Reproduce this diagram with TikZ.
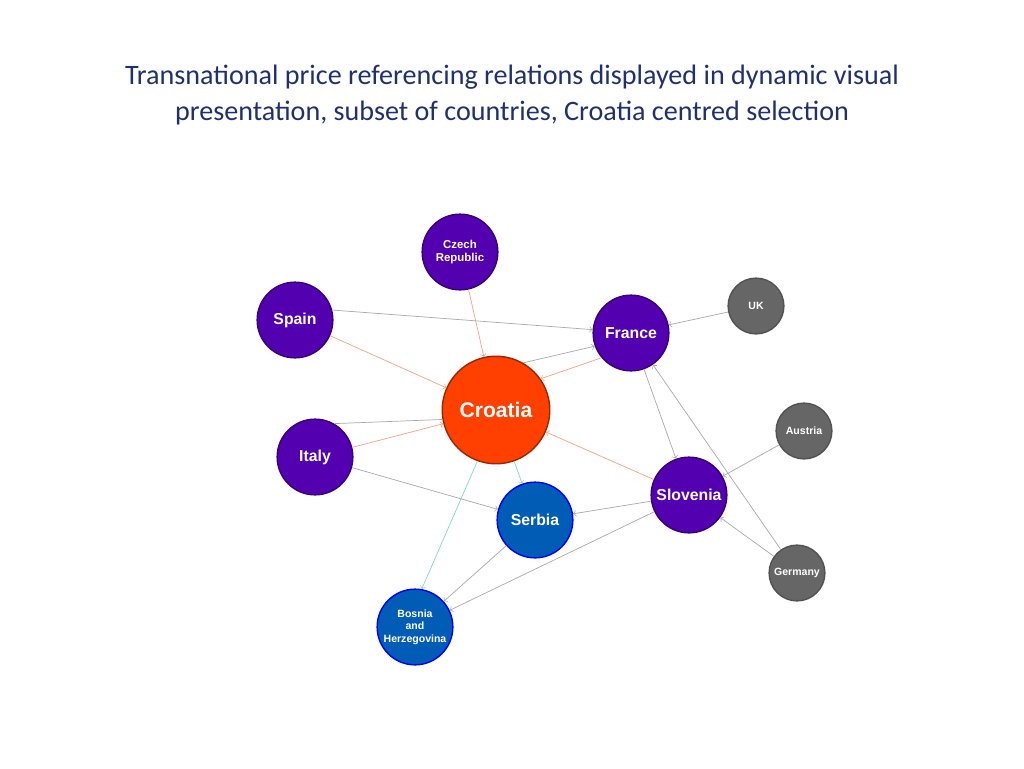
\documentclass[tikz,border=0pt]{standalone}
\usepackage{fontspec}
\setmainfont{Carlito}
\newfontfamily\nodefont{Liberation Sans}
\definecolor{titleblue}{HTML}{1F3070}
\definecolor{purp}{HTML}{5200B0}
\definecolor{croa}{HTML}{FF4000}
\definecolor{serb}{HTML}{005CB4}
\definecolor{grayn}{HTML}{666666}
\definecolor{salmon}{HTML}{F4A08A}
\definecolor{teal}{HTML}{7ED8C0}
\definecolor{edgegray}{HTML}{A8A8A8}
\tikzset{
  country/.style={circle, draw, thick, text=white, font=\nodefont\bfseries, align=center, inner sep=0pt},
  big/.style={country, fill=purp, draw=purp!70!black, minimum size=76\px, font=\nodefont\bfseries\fontsize{9}{10}\selectfont},
  small/.style={country, fill=grayn, draw=grayn!80!black, minimum size=56\px, font=\nodefont\bfseries\fontsize{6}{7}\selectfont},
  ref/.style={->, >=to, edgegray, thin},
  toc/.style={->, >=to, salmon, thin},
  fromc/.style={->, >=to, teal, thin},
}
\newcommand{\px}{*0.5669pt}
\begin{document}
\begin{tikzpicture}[x=0.02cm, y=-0.02cm]
\useasboundingbox (0,0) rectangle (1024,768);
\node[titleblue, font=\fontsize{16}{20}\selectfont, align=center] (title) at (512,95)
  {Transnational price referencing relations displayed in dynamic visual\\presentation, subset of countries, Croatia centred selection};

\node[big, font=\nodefont\bfseries\fontsize{6.5}{7.5}\selectfont] (czech) at (460,252) {Czech\\Republic};
\node[big] (spain) at (295,320) {Spain};
\node[big] (france) at (631,333) {France};
\node[small] (uk) at (756,306) {UK};
\node[country, fill=croa, draw=croa!60!black, minimum size=108\px, font=\nodefont\bfseries\fontsize{12}{14}\selectfont] (croatia) at (496,410) {Croatia};
\node[big] (italy) at (315,457) {Italy};
\node[small] (austria) at (804,431) {Austria};
\node[big] (slovenia) at (689,495) {Slovenia};
\node[big, fill=serb, draw=blue] (serbia) at (535,520) {Serbia};
\node[small] (germany) at (797,573) {Germany};
\node[big, fill=serb, draw=blue, font=\nodefont\bfseries\fontsize{6}{7}\selectfont] (bosnia) at (415,627) {Bosnia\\and\\Herzegovina};

% referencing edges
\draw[toc] (czech) -- (croatia);
\draw[toc] (spain) -- (croatia);
\draw[toc] (italy) -- (croatia);
\draw[toc] (slovenia) -- (croatia);
\draw[toc] (france.220) -- (croatia.35);
\draw[ref] (croatia.60) -- (france.200);
\draw[ref] (spain.15) -- (france.175);
\draw[ref, -] (italy.60) -- (croatia.190);
\draw[fromc] (croatia) -- (serbia);
\draw[fromc] (croatia.250) -- (bosnia.80);
\draw[ref] (italy) -- (serbia);
\draw[ref] (slovenia) -- (serbia);
\draw[ref] (serbia) -- (bosnia);
\draw[ref] (slovenia) -- (bosnia);
\draw[ref] (france) -- (slovenia);
\draw[ref] (uk) -- (france);
\draw[ref] (austria) -- (slovenia);
\draw[ref] (germany) -- (slovenia);
\draw[ref] (germany) -- (france);
\end{tikzpicture}
\end{document}
